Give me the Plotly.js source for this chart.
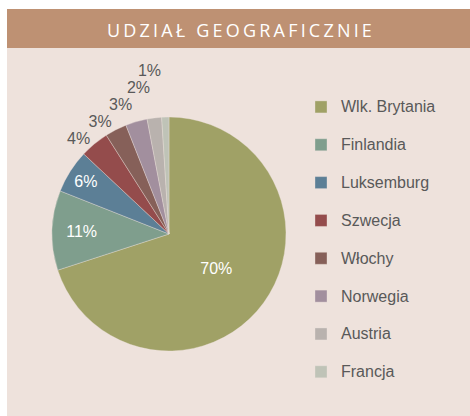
<!DOCTYPE html>
<html>
<head>
<meta charset="utf-8">
<script src="https://cdn.plot.ly/plotly-3.0.1.min.js"></script>
<style>html,body{margin:0;padding:0;background:#fff;}#chart{width:470px;height:416px;}</style>
</head>
<body>
<div id="chart"></div>
<script>
var categories = ["Wlk. Brytania", "Finlandia", "Luksemburg", "Szwecja", "Włochy", "Norwegia", "Austria", "Francja"];
var shares = [70, 11, 6, 4, 3, 3, 2, 1];
var sliceColors = ["#A0A166", "#7F9E8D", "#5C7F96", "#944C4C", "#866059", "#A28F9E", "#B9B2AE", "#BFC3B7"];
var labelPositions = ["inside", "inside", "inside", "outside", "outside", "outside", "outside", "outside"];
var chartTitle = "UDZIAŁ GEOGRAFICZNIE";

var W = 470, H = 416;
function px(x) { return x / W; }
function py(y) { return 1 - y / H; }

var legendLabels = categories.map(function (c) {
  return '<span style="font-size:16px;baseline-shift:5px">' + c + '</span>';
});
var labelTemplates = labelPositions.map(function (p) {
  return p === "outside"
    ? '<span style="color:#595959;fill-opacity:1">%{percent:.0%}</span>'
    : '%{percent:.0%}';
});

var trace = {
  type: "pie",
  labels: legendLabels,
  values: shares,
  sort: false,
  direction: "clockwise",
  rotation: 0,
  textinfo: "percent",
  texttemplate: labelTemplates,
  textposition: labelPositions,
  insidetextorientation: "horizontal",
  insidetextfont: { color: "#FFFFFF", size: 16, family: "Liberation Sans, Arial, sans-serif" },
  outsidetextfont: { color: "rgba(0,0,0,0)", size: 16, family: "Liberation Sans, Arial, sans-serif" },
  marker: { colors: sliceColors, line: { color: "rgba(238,226,220,0.6)", width: 0.6 } },
  domain: { x: [px(52), px(286)], y: [py(351), py(117)] },
  hoverinfo: "percent"
};

var layout = {
  width: W, height: H,
  margin: { l: 0, r: 0, t: 0, b: 0 },
  paper_bgcolor: "#FFFFFF",
  plot_bgcolor: "rgba(0,0,0,0)",
  font: { family: "Liberation Sans, Arial, sans-serif", color: "#595959" },
  title: {
    text: '<span style="letter-spacing:3.2px">' + chartTitle + '</span>',
    font: { family: "Open Sans, sans-serif", size: 18, color: "#FFFFFF" },
    x: 241 / W, xanchor: "center",
    y: 1 - 31 / H, yanchor: "middle", yref: "container"
  },
  showlegend: true,
  legend: {
    x: px(301), xanchor: "left",
    y: py(83), yanchor: "top",
    bgcolor: "rgba(0,0,0,0)",
    itemwidth: 30,
    font: { family: "Liberation Sans, Arial, sans-serif", size: 26.8, color: "#595959" },
    itemclick: false, itemdoubleclick: false
  },
  shapes: [
    { type: "rect", xref: "paper", yref: "paper", x0: px(7), x1: 1, y0: 0, y1: py(9),
      fillcolor: "#EEE2DC", line: { width: 0 }, layer: "below" },
    { type: "rect", xref: "paper", yref: "paper", x0: px(7), x1: 1, y0: py(48), y1: py(9),
      fillcolor: "#BE9173", line: { width: 0 }, layer: "below" }
  ]
};

Plotly.newPlot("chart", [trace], layout, { displayModeBar: false, staticPlot: true });
</script>
</body>
</html>
